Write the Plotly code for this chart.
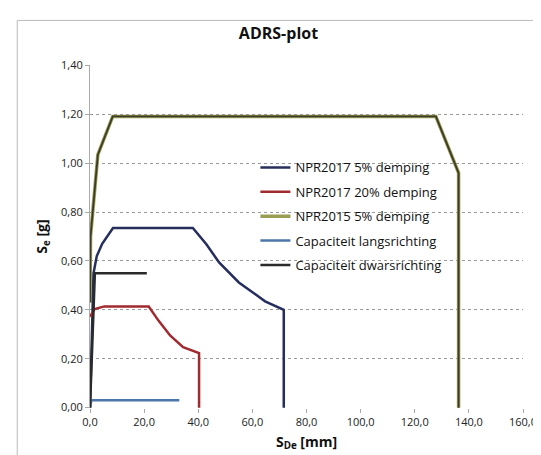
import plotly.graph_objects as go

# NPR2017 5% demping
npr17_5_x = [0.0, 1.3, 2.5, 4.5, 8.5, 38.0, 43.0, 47.7, 55.0, 64.7, 71.6, 71.6]
npr17_5_y = [0.0, 0.55, 0.62, 0.67, 0.735, 0.735, 0.668, 0.594, 0.512, 0.435, 0.40, 0.0]
# NPR2017 20% demping
npr17_20_x = [0.0, 1.7, 5.3, 21.7, 25.3, 29.6, 34.4, 40.3, 40.3]
npr17_20_y = [0.372, 0.403, 0.414, 0.414, 0.356, 0.295, 0.247, 0.223, 0.0]
# NPR2015 5% demping
npr15_5_x = [0.0, 0.2, 2.9, 8.4, 127.8, 136.2, 136.2]
npr15_5_y = [0.43, 0.70, 1.035, 1.191, 1.191, 0.96, 0.0]
# Capaciteit langsrichting
cap_l_x = [0.0, 0.5, 33.0]
cap_l_y = [0.0, 0.03, 0.03]
# Capaciteit dwarsrichting
cap_d_x = [0.0, 1.8, 21.0]
cap_d_y = [0.0, 0.55, 0.55]

names = ["NPR2017 5% demping", "NPR2017 20% demping", "NPR2015 5% demping",
         "Capaciteit langsrichting", "Capaciteit dwarsrichting"]
colors = ["#262e5e", "#a02a30", "#9a9e55", "#4a77a8", "#2a2a2a"]

FONT = "Open Sans"

fig = go.Figure()
series = [(npr17_5_x, npr17_5_y), (npr17_20_x, npr17_20_y), (npr15_5_x, npr15_5_y),
          (cap_l_x, cap_l_y), (cap_d_x, cap_d_y)]
# NPR2015 first (drawn underneath), olive outer line
order = [2, 0, 1, 3, 4]
for i in order:
    xs, ys = series[i]
    w = 3.5 if i == 2 else 2.5
    fig.add_trace(go.Scatter(x=xs, y=ys, mode="lines", name=names[i],
                             legendgroup=names[i], legendrank=i + 1,
                             line=dict(color=colors[i], width=w)))
# dark core of the NPR2015 line (as in the scan)
fig.add_trace(go.Scatter(x=npr15_5_x, y=npr15_5_y, mode="lines",
                         line=dict(color="#3c3c28", width=1.8), showlegend=False,
                         hoverinfo="skip"))

fig.update_layout(
    width=541, height=455,
    margin=dict(l=82, r=19, t=57, b=55),
    paper_bgcolor="white", plot_bgcolor="white",
    separators=",.",
    font=dict(family=FONT, size=12, color="#222"),
    title=dict(text="<b>ADRS-plot</b>", x=0.5, xanchor="center", y=0.945, yanchor="middle",
               font=dict(family=FONT, size=16, color="#111")),
    legend=dict(x=0.382, y=0.745, xanchor="left", yanchor="top", bgcolor="rgba(0,0,0,0)",
                font=dict(family=FONT, size=13, color="#111"), tracegroupgap=4.5,
                itemwidth=30),
    shapes=[dict(type="rect", xref="paper", yref="paper", x0=-0.168, x1=1.04, y0=-0.16, y1=1.13,
                 line=dict(color="#bbb", width=1))],
)
fig.update_xaxes(range=[0, 160], tickvals=[0, 20, 40, 60, 80, 100, 120, 140, 160],
                 tickformat=".1f", showgrid=False, zeroline=False,
                 showline=False, ticks="outside", ticklen=4, tickcolor="#aaa",
                 tickfont=dict(family=FONT, size=11, color="#222"),
                 title=dict(text="<b>S<sub>De</sub> [mm]</b>", font=dict(family=FONT, size=14, color="#111"),
                            standoff=8))
fig.update_yaxes(range=[-0.0015, 1.4015], tickvals=[0, 0.2, 0.4, 0.6, 0.8, 1.0, 1.2, 1.4],
                 tickformat=".2f", showgrid=True, gridcolor="#999", griddash="dot", gridwidth=1,
                 zeroline=False, showline=True, linecolor="#aaa", linewidth=1,
                 ticks="outside", ticklen=4, tickcolor="#aaa",
                 tickfont=dict(family=FONT, size=11, color="#222"),
                 title=dict(text="<b>S<sub>e</sub> [g]</b>", font=dict(family=FONT, size=14, color="#111"),
                            standoff=10))

fig.write_html("out.html")
